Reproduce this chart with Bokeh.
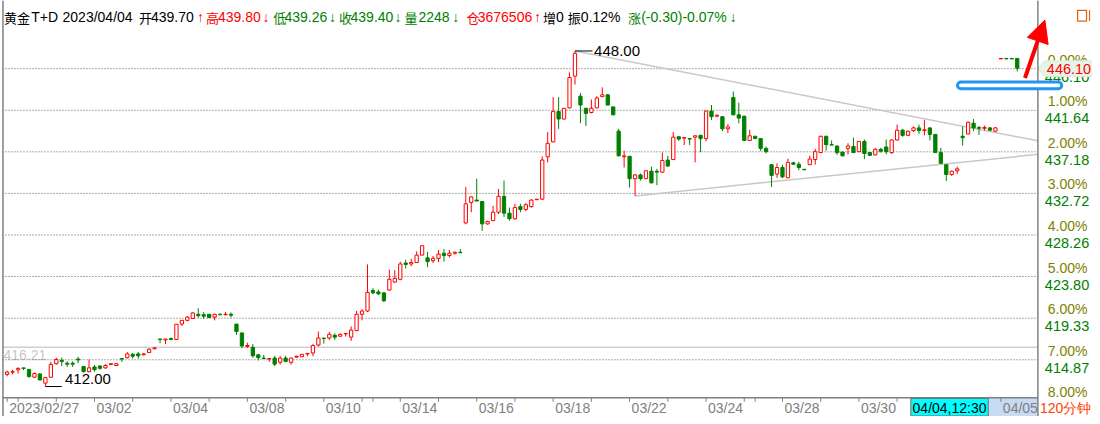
from bokeh.plotting import figure
from bokeh.models import Range1d, ColumnDataSource, BoxAnnotation, Arrow, NormalHead
from bokeh.core.properties import value
from bokeh.embed import file_html
from bokeh.resources import INLINE

# ---------------- data (120-minute candles, 黄金T+D) ----------------
opens = [413.3, 413.55, 413.8, 414.0, 413.84, 413.0, 413.35, 412.36, 413.0, 414.45,
         414.8, 414.5, 414.5, 414.95, 414.15, 413.6, 414.1, 414.2, 414.0, 414.35,
         414.25, 415.0, 415.1, 415.45, 415.5, 415.4, 415.65, 416.05, 417.1, 417.0,
         417.15, 417.05, 418.7, 419.1, 419.3, 419.75, 419.7, 419.75, 419.45, 419.75,
         419.7, 419.75, 418.7, 417.75, 416.3, 416.2, 415.4, 415.05, 414.95, 415.05,
         414.6, 415.05, 414.6, 415.15, 415.2, 415.5, 415.6, 416.45, 417.2, 417.2,
         417.5, 417.4, 417.65, 417.3, 418.0, 419.75, 420.1, 422.3, 422.15, 422.05,
         422.35, 423.2, 423.5, 425.25, 425.15, 425.3, 426.1, 425.8, 425.5, 425.75,
         426.3, 426.05, 426.3, 426.4, 429.55, 431.75, 432.0, 431.85, 429.45, 429.8,
         430.7, 432.4, 430.6, 430.0, 431.3, 431.0, 431.3, 432.05, 432.1, 436.65,
         438.25, 441.5, 440.7, 441.9, 445.3, 443.15, 441.85, 441.4, 441.9, 443.1,
         443.3, 442.0, 439.4, 436.65, 436.7, 434.3, 434.7, 434.3, 435.1, 435.1,
         435.0, 436.3, 436.35, 438.8, 438.65, 438.6, 438.75, 438.95, 438.6, 441.55,
         441.0, 440.95, 439.65, 443.0, 441.15, 441.0, 438.4, 438.85, 438.6, 437.55,
         435.8, 434.8, 435.5, 434.4, 436.0, 435.85, 435.3, 435.8, 436.35, 437.1,
         438.85, 437.95, 437.8, 437.15, 437.55, 437.75, 437.2, 438.3, 437.1, 436.85,
         437.45, 437.7, 437.1, 438.45, 439.5, 438.95, 439.45, 439.75, 439.45, 439.75,
         439.05, 437.1, 435.8, 434.75, 435.15, 438.85, 439.1, 440.25, 439.8, 439.7,
         439.75, 439.4, 447.15, 447.2, 447.2, 447.2]
highs = [413.7, 413.8, 414.05, 414.0, 413.84, 413.5, 413.4, 413.0, 414.65, 415.1,
         415.1, 414.7, 414.7, 415.2, 414.2, 414.9, 414.3, 414.3, 414.4, 414.5,
         414.5, 415.0, 415.7, 415.6, 415.7, 415.6, 416.1, 416.2, 417.1, 417.1,
         417.25, 418.7, 419.15, 419.55, 419.95, 420.4, 420.0, 419.75, 419.8, 419.85,
         420.0, 419.95, 418.7, 417.8, 416.7, 416.55, 415.5, 415.4, 415.0, 415.3,
         415.3, 415.3, 415.1, 415.3, 415.5, 415.55, 416.55, 417.9, 417.2, 417.85,
         417.7, 417.7, 417.7, 418.45, 420.1, 420.3, 425.1, 422.55, 422.4, 422.1,
         424.55, 424.5, 425.4, 425.6, 425.7, 426.5, 427.15, 426.45, 426.0, 426.65,
         426.75, 426.65, 426.5, 426.75, 433.4, 432.4, 434.3, 431.9, 429.8, 431.4,
         433.2, 434.1, 431.2, 431.6, 431.6, 431.7, 432.1, 432.1, 436.7, 439.3,
         443.05, 443.05, 441.9, 445.7, 448.0, 443.5, 441.9, 442.8, 443.15, 444.1,
         443.35, 442.05, 439.65, 437.3, 436.7, 434.8, 434.85, 435.2, 435.6, 435.35,
         437.1, 436.75, 439.3, 438.8, 438.75, 438.6, 438.95, 439.0, 441.6, 442.2,
         441.2, 441.0, 440.15, 443.65, 442.45, 441.05, 439.55, 438.9, 438.65, 437.75,
         435.8, 435.95, 435.8, 436.45, 436.1, 436.1, 435.35, 436.75, 437.5, 438.9,
         438.9, 438.4, 437.85, 437.2, 438.1, 438.7, 438.35, 438.5, 437.15, 437.6,
         437.6, 438.5, 438.5, 440.1, 439.65, 439.45, 439.9, 440.1, 440.6, 439.8,
         439.1, 437.6, 435.85, 435.15, 435.6, 439.9, 440.45, 440.7, 439.95, 440.0,
         439.85, 439.85, 447.2, 447.2, 447.2, 447.2]
lows = [413.1, 413.3, 413.4, 413.75, 412.95, 412.95, 412.7, 412.0, 412.95, 414.35,
        414.2, 414.1, 414.1, 414.5, 413.5, 413.5, 413.6, 413.8, 413.9, 414.3,
        414.2, 414.65, 415.0, 415.0, 415.0, 415.35, 415.6, 416.0, 416.65, 416.55,
        416.95, 417.0, 418.5, 419.0, 419.25, 419.4, 419.25, 419.4, 419.1, 419.65,
        419.65, 419.4, 417.55, 416.1, 416.15, 415.1, 414.8, 415.0, 414.65, 414.2,
        414.35, 414.6, 414.35, 415.1, 415.15, 415.25, 415.25, 416.3, 416.6, 417.0,
        417.0, 417.3, 417.35, 416.9, 417.95, 419.1, 420.0, 421.9, 421.8, 421.05,
        422.3, 423.15, 423.4, 424.65, 424.9, 425.25, 426.05, 424.8, 425.25, 425.35,
        425.4, 425.85, 426.15, 426.35, 429.4, 430.7, 431.9, 428.7, 429.35, 429.75,
        430.5, 430.2, 429.8, 429.9, 430.7, 430.8, 431.2, 432.0, 432.0, 436.05,
        438.2, 439.65, 440.65, 441.85, 444.4, 440.25, 439.95, 441.3, 441.85, 443.05,
        442.15, 441.1, 436.7, 435.5, 433.35, 432.45, 434.1, 434.25, 433.8, 433.6,
        434.95, 435.6, 436.3, 438.35, 437.9, 437.9, 436.05, 437.15, 438.3, 440.6,
        440.9, 439.4, 439.2, 441.1, 440.25, 438.35, 438.35, 438.55, 437.25, 437.0,
        433.4, 434.4, 434.35, 434.35, 435.8, 435.2, 435.25, 435.75, 435.8, 437.05,
        437.3, 437.9, 436.85, 436.7, 436.9, 437.05, 437.15, 436.4, 436.75, 436.8,
        437.1, 436.9, 436.95, 438.4, 438.8, 438.9, 439.3, 439.1, 438.95, 438.4,
        437.05, 435.9, 434.05, 434.6, 434.8, 437.85, 439.05, 439.4, 439.0, 439.45,
        439.45, 439.3, 447.15, 447.15, 447.15, 445.8]
closes = [413.55, 413.6, 413.95, 413.95, 413.07, 413.4, 412.7, 412.96, 414.37, 414.9,
          414.68, 414.4, 414.4, 414.85, 413.6, 414.0, 413.8, 413.95, 414.25, 414.45,
          414.45, 414.95, 415.5, 415.25, 415.3, 415.5, 416.0, 416.15, 417.05, 417.1,
          417.05, 418.68, 419.1, 419.45, 419.9, 419.6, 419.55, 419.4, 419.75, 419.7,
          419.75, 419.65, 417.9, 416.35, 416.4, 415.3, 415.1, 415.0, 415.0, 414.4,
          415.05, 414.7, 415.05, 415.25, 415.45, 415.55, 416.4, 417.2, 417.15, 417.6,
          417.3, 417.6, 417.7, 418.05, 419.75, 420.1, 422.1, 422.05, 421.95, 421.2,
          423.5, 423.6, 425.15, 425.1, 425.3, 426.1, 427.1, 425.4, 425.75, 426.2,
          426.05, 426.3, 426.4, 426.35, 431.6, 432.35, 431.9, 429.45, 429.7, 430.7,
          432.4, 430.6, 430.0, 431.2, 431.0, 431.5, 432.0, 432.1, 436.3, 438.1,
          441.5, 440.7, 441.85, 445.15, 447.75, 442.2, 441.3, 441.85, 442.95, 443.3,
          442.2, 441.15, 436.75, 436.75, 434.3, 434.7, 434.3, 435.15, 433.85, 435.0,
          436.25, 435.65, 438.75, 438.55, 438.7, 438.55, 438.9, 438.6, 441.55, 440.95,
          441.1, 439.65, 439.85, 441.15, 440.8, 438.4, 438.9, 438.6, 437.55, 437.2,
          434.65, 435.5, 434.5, 436.05, 435.85, 435.5, 435.25, 436.4, 437.2, 438.85,
          437.95, 437.9, 437.1, 436.75, 437.8, 437.1, 438.3, 437.0, 436.8, 437.45,
          437.25, 437.2, 438.45, 439.5, 438.95, 439.4, 439.75, 439.45, 439.55, 439.05,
          437.1, 435.95, 434.75, 435.1, 435.35, 438.7, 440.35, 439.75, 439.7, 439.8,
          439.5, 439.75, 447.2, 447.15, 447.15, 446.15]

grid_prices = [446.10, 441.64, 437.18, 432.72, 428.26, 423.80, 419.33, 414.87, 410.41]
grid_pcts = ["0.00%", "1.00%", "2.00%", "3.00%", "4.00%", "5.00%", "6.00%", "7.00%", "8.00%"]
last_price = 446.10
ref_price = 416.21
hi_idx, hi_price = 104, 448.00
lo_idx, lo_price = 7, 412.00
upper_trend_x = [104, 188.8]
upper_trend_y = [448.00, 438.36]
lower_trend_x = [115, 188.8]
lower_trend_y = [432.45, 436.91]
day_ticks = [0, 2, 9, 16, 23, 30, 37, 44, 51, 58, 65, 67, 72, 79, 86, 93, 100, 107,
             114, 121, 128, 135, 137, 142, 149, 156, 163, 182]
date_tick_idx = [0, 16, 30, 44, 58, 72, 86, 100, 114, 128, 142, 156, 182]
date_labels = ["2023/02/27", "03/02", "03/04", "03/08", "03/10", "03/14", "03/16",
               "03/18", "03/22", "03/24", "03/28", "03/30", "04/05"]
cursor_label = "04/04,12:30"
period_label = "120分钟"


# ---------------- layout helpers (reference pixel -> data) ----------------
def X(u):
    return (u - 6.7) / 5.5


def Y(v):
    return 446.10 - (v - 69.5) / 9.5


RED = "#ff0000"
GREEN = "#008000"
LAT = value("Liberation Sans")
CJK = value("Noto Sans CJK SC")

p = figure(width=1092, height=416, x_range=Range1d(X(0), X(1100)), y_range=Range1d(Y(424), Y(0)),
           output_backend="svg", toolbar_location=None, x_axis_type=None, y_axis_type=None,
           min_border=0, outline_line_color=None, title=None, background_fill_color="white",
           border_fill_color="white")

# reference (previous) price line
p.segment(x0=[X(2)], y0=[ref_price], x1=[X(1045)], y1=[ref_price], line_color="#d0d0d0", line_width=1.5)
p.text(x=[X(3)], y=[ref_price], text=[f"{ref_price:.2f}"], y_offset=8, text_color="#c8c8c8",
       text_font=LAT, text_font_size="14px", text_align="left", text_baseline="middle")

# dotted price grid
p.segment(x0=[X(2)] * len(grid_prices), y0=grid_prices, x1=[X(1045)] * len(grid_prices), y1=grid_prices,
          line_color="#5a5a5a", line_width=1, line_dash="1 2")

# trend lines
p.line(upper_trend_x, upper_trend_y, line_color="#c8c8c8", line_width=1.5)
p.line(lower_trend_x, lower_trend_y, line_color="#c8c8c8", line_width=1.5)

# candles
n = len(opens)
idx = list(range(n))
up = [c >= o for o, c in zip(opens, closes)]
src = ColumnDataSource(dict(
    x=idx, h=highs, l=lows,
    top=[max(o, c) for o, c in zip(opens, closes)],
    bottom=[min(o, c) for o, c in zip(opens, closes)],
    color=[RED if u else GREEN for u in up],
    fill=["white" if u else GREEN for u in up],
))
p.segment(x0="x", y0="l", x1="x", y1="h", line_color="color", line_width=1, source=src)
p.vbar(x="x", width=0.6, top="top", bottom="bottom", fill_color="fill", line_color="color",
       line_width=1, source=src)

# high / low markers
p.segment(x0=[hi_idx, lo_idx], y0=[hi_price, lo_price], x1=[hi_idx + 3.2, lo_idx + 3.0],
          y1=[hi_price, lo_price], line_color="black", line_width=1)
p.text(x=[hi_idx + 3.5], y=[hi_price], text=[f"{hi_price:.2f}"], text_color="black", text_font=LAT,
       text_font_size="15px", text_align="left", text_baseline="middle")
p.text(x=[lo_idx + 3.6], y=[lo_price], text=[f"{lo_price:.2f}"], y_offset=-8, text_color="black",
       text_font=LAT, text_font_size="15px", text_align="left", text_baseline="middle")

# right price scale labels
p.text(x=[X(1055)] * len(grid_prices), y=grid_prices, text=grid_pcts, y_offset=-9,
       text_color="#808000", text_font=LAT, text_font_size="14px", text_align="left",
       text_baseline="middle")
p.text(x=[X(1052)] * len(grid_prices), y=grid_prices, text=[f"{g:.2f}" for g in grid_prices],
       y_offset=8, text_color=GREEN, text_font=LAT, text_font_size="14.5px", text_align="left",
       text_baseline="middle")

# last price marker
p.patch(x=[X(1045), X(1052), X(1100), X(1100), X(1052)],
        y=[last_price, Y(61.5), Y(61.5), Y(77.5), Y(77.5)],
        fill_color="#e6f3e6", line_color="#d8ead8")
p.text(x=[X(1054)], y=[last_price], text=[f"{last_price:.2f}"], text_color=RED, text_font=LAT,
       text_font_size="14.5px", text_align="left", text_baseline="middle")

# bottom date strip
p.quad(left=[X(2)], right=[X(1100)], top=[Y(405)], bottom=[Y(424)], fill_color="white", line_color=None)
p.quad(left=[X(917)], right=[X(1045)], top=[Y(405)], bottom=[Y(424)], fill_color="#c6dbf2", line_color=None)
p.segment(x0=[X(2)], y0=[Y(405)], x1=[X(1045)], y1=[Y(405)], line_color="#808080", line_width=1.5)
p.segment(x0=day_ticks, y0=[Y(405)] * len(day_ticks), x1=day_ticks, y1=[Y(409)] * len(day_ticks),
          line_color="#808080", line_width=1)
p.text(x=date_tick_idx, y=[Y(415)] * len(date_tick_idx), text=date_labels, x_offset=2,
       text_color="#808080", text_font=LAT, text_font_size="14px", text_align="left",
       text_baseline="middle")
p.quad(left=[X(917)], right=[X(995)], top=[Y(405.5)], bottom=[Y(423.5)], fill_color="#00ffff",
       line_color="#707070", line_width=1)
p.text(x=[X(956)], y=[Y(415)], text=[cursor_label], text_color="black", text_font=LAT,
       text_font_size="14px", text_align="center", text_baseline="middle")
p.text(x=[X(1047)], y=[Y(415)], text=[period_label], text_color="#ff4000", text_font=LAT,
       text_font_size="14px", text_align="left", text_baseline="middle")

# frame lines
p.segment(x0=[X(1045), X(2.5)], y0=[Y(0), Y(0)], x1=[X(1045), X(2.5)], y1=[Y(424), Y(424)],
          line_color="#808080", line_width=1.5)

# header
hdr = [
    (3.5, "黄金", "black", "c"), (31, "T+D", "black", "l"), (62.5, "2023/04/04", "black", "l"),
    (139.6, "开", "black", "c"), (151.6, "439.70", "black", "l"), (198, "↑", RED, "l"),
    (207, "高", RED, "c"), (219, "439.80", RED, "l"), (264, "↓", RED, "l"),
    (274.7, "低", GREEN, "c"), (286, "439.26", GREEN, "l"), (331, "↓", GREEN, "l"),
    (341, "收", GREEN, "c"), (352.6, "439.40", GREEN, "l"), (397, "↓", GREEN, "l"),
    (407, "量", GREEN, "c"), (421, "2248", GREEN, "l"), (455, "↓", GREEN, "l"),
    (469.5, "仓", RED, "c"), (480.7, "3676506", RED, "l"), (537.5, "↑", RED, "l"),
    (546.4, "增", "black", "c"), (559.6, "0", "black", "l"),
    (571.4, "振", "black", "c"), (584.6, "0.12%", "black", "l"),
    (632, "涨", GREEN, "c"), (645.4, "(-0.30)-0.07%", GREEN, "l"), (734.6, "↓", GREEN, "l"),
]
for kind, font, size in (("l", LAT, "14px"), ("c", CJK, "13px")):
    items = [h for h in hdr if h[3] == kind]
    p.text(x=[X(h[0]) for h in items], y=[Y(17)] * len(items), text=[h[1] for h in items],
           text_color=[h[2] for h in items], text_font=font, text_font_size=size,
           text_align="left", text_baseline="middle")

# small orange window icon
p.quad(left=[X(1085)], right=[X(1094)], top=[Y(10)], bottom=[Y(21)], fill_color=None,
       line_color="#e06010", line_width=1.2)
p.segment(x0=[X(1097)], y0=[Y(10)], x1=[X(1097)], y1=[Y(21)], line_color="#e06010", line_width=1.2)

# highlighted blue box and red arrow (annotations)
p.add_layout(BoxAnnotation(left=X(964), right=X(1069), top=Y(83), bottom=Y(90), fill_color="white",
                           fill_alpha=1.0, line_color="#2196f3", line_width=3, line_alpha=1.0,
                           border_radius=4))
p.add_layout(Arrow(end=NormalHead(size=22, fill_color=RED, line_color=RED),
                   x_start=X(1032), y_start=Y(79), x_end=X(1052), y_end=Y(20),
                   line_color=RED, line_width=4))

open("out.html", "w").write(file_html(p, INLINE))
